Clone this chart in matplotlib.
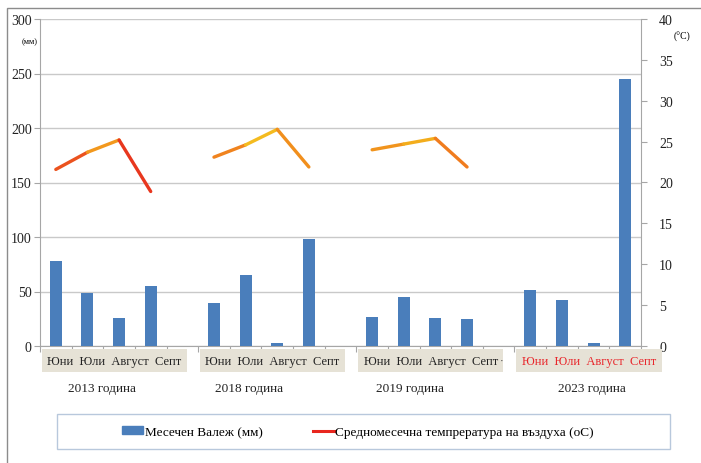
import matplotlib
matplotlib.use("Agg")
import matplotlib.pyplot as plt
import matplotlib.patches as mpatches
from matplotlib.collections import LineCollection
from matplotlib.colors import LinearSegmentedColormap, Normalize
from matplotlib.lines import Line2D
import matplotlib.transforms as mtrans
import numpy as np

plt.rcParams["font.family"] = ["Liberation Serif", "DejaVu Serif"]

# ── data ────────────────────────────────────────────────────────────────────
years = ["2013", "2018", "2019", "2023"]
months = ["Юни", "Юли", "Август", "Септ"]
rain_2013 = [78, 49, 25.5, 55]
rain_2018 = [39.5, 65, 2.5, 98]
rain_2019 = [27, 45, 25.5, 24.5]
rain_2023 = [51.5, 42.5, 2.5, 245]
temp_2013 = [21.6, 23.7, 25.2, 18.9]
temp_2018 = [23.1, 24.6, 26.5, 21.9]
temp_2019 = [24.0, 24.7, 25.4, 21.9]
rain = [rain_2013, rain_2018, rain_2019, rain_2023]
temp = [temp_2013, temp_2018, temp_2019, None]

bar_blue = "#4a7ebb"
grid_c = "#c9c9c9"
spine_c = "#a6a6a6"
box_c = "#e6e2d6"

temp_cmap = LinearSegmentedColormap.from_list(
    "temp", ["#3a0505", "#b80d18", "#e8361e", "#f07a1e", "#f3b21c", "#f6d82a"])
tnorm = Normalize(18.8, 26.8)

W, H = 701, 464
fig = plt.figure(figsize=(W / 100, H / 100), dpi=100)
fig.patch.set_facecolor("white")
ax = fig.add_axes([40 / W, 1 - 347 / H, 601 / W, 327 / H])
ax2 = ax.twinx()

# ── bars (left axis) ────────────────────────────────────────────────────────
n_slots = len(years) * (len(months) + 1) - 1
for gi, vals in enumerate(rain):
    xs = np.arange(len(months)) + gi * (len(months) + 1)
    ax.bar(xs, vals, width=0.38, color=bar_blue, zorder=3)

ax.set_xlim(-0.5, n_slots - 0.5)
ax.set_ylim(0, 300)
ax.set_yticks(np.arange(0, 301, 50))
ax.yaxis.grid(True, color=grid_c, lw=1.0, zorder=0)
ax.set_axisbelow(True)
ax.set_xticks(np.arange(-0.5, n_slots, 1.0))
ax.set_xticklabels([])
ax.tick_params(axis="x", direction="out", length=4, color=spine_c)
ax.tick_params(axis="y", direction="out", length=4, color=spine_c,
               labelsize=10, pad=2, labelcolor="#222222")
for s in ["left", "bottom"]:
    ax.spines[s].set_color(spine_c)
ax.spines["top"].set_visible(False)
ax.spines["right"].set_visible(False)

# ── temperature lines (right axis) ──────────────────────────────────────────
for gi, vals in enumerate(temp):
    if vals is None:
        continue
    xs = np.arange(len(months)) + gi * (len(months) + 1)
    pts = np.column_stack([xs, vals])
    segs = np.stack([pts[:-1], pts[1:]], axis=1)
    mids = (np.array(vals[:-1]) + np.array(vals[1:])) / 2
    lc = LineCollection(segs, cmap=temp_cmap, norm=tnorm, lw=2.4,
                        capstyle="round", joinstyle="round", zorder=4)
    lc.set_array(mids)
    ax2.add_collection(lc)

ax2.set_ylim(0, 40)
ax2.set_yticks(np.arange(0, 41, 5))
ax2.tick_params(axis="y", direction="out", length=4, color=spine_c,
                labelsize=10, pad=9, labelcolor="#222222")
ax2.spines["right"].set_color(spine_c)
for s in ["top", "left", "bottom"]:
    ax2.spines[s].set_visible(False)

# ── axis unit labels ────────────────────────────────────────────────────────
fig.text(30 / W, 1 - 42 / H, "(мм)", fontsize=6, ha="center", va="center")
fig.text(682 / W, 1 - 37 / H, "(°C)", fontsize=7, ha="center", va="center")

# ── category boxes and year labels ──────────────────────────────────────────
trans = mtrans.blended_transform_factory(ax.transData, fig.transFigure)
year_shift = [-0.05, -0.4, -0.3, 0.45]
for gi, yr in enumerate(years):
    first = gi * (len(months) + 1)
    x0, x1 = first - 0.45, first + 4.15
    rect = mpatches.Rectangle((x0, 1 - 373 / H), x1 - x0, 23 / H,
                              transform=trans, facecolor=box_c,
                              edgecolor="none", clip_on=False, zorder=1)
    fig.add_artist(rect)
    col = "#e8262b" if yr == "2023" else "#222222"
    fig.text((x0 + x1) / 2, 1 - 362 / H, "  ".join(months), transform=trans,
             ha="center", va="center", fontsize=9, color=col)
    fig.text(first + 1.5 + year_shift[gi], 1 - 389 / H, f"{yr} година",
             transform=trans, ha="center", va="center", fontsize=9.5,
             color="#222222")
fig.text(14.1, 1 - 361 / H, "·", transform=trans, ha="center", va="center",
         fontsize=8, color="#444444")

# ── legend ─────────────────────────────────────────────────────────────────
fig.add_artist(mpatches.Rectangle((57 / W, 1 - 450 / H), 613 / W, 35 / H,
                                  transform=fig.transFigure, facecolor="white",
                                  edgecolor="#b8c8dc", lw=1.0))
handles = [mpatches.Patch(color=bar_blue),
           Line2D([], [], color="#e8261e", lw=2.2)]
labels = ["Месечен Валеж (мм)", "Средномесечна темпрература на въздуха (оС)"]
fig.legend(handles, labels, loc="center", bbox_to_anchor=(358 / W, 1 - 433 / H),
           ncol=2, frameon=False, fontsize=9.5, handlelength=1.6,
           handletextpad=0.1, columnspacing=3.8, handleheight=0.55)

# ── outer frame ────────────────────────────────────────────────────────────
fig.add_artist(mpatches.Rectangle((7 / W, -0.05), 1.1, 1 - 9 / H + 0.05,
                                  transform=fig.transFigure, facecolor="none",
                                  edgecolor="#8c8c8c", lw=1.0))

fig.savefig("out.png", dpi=100)
plt.close(fig)
